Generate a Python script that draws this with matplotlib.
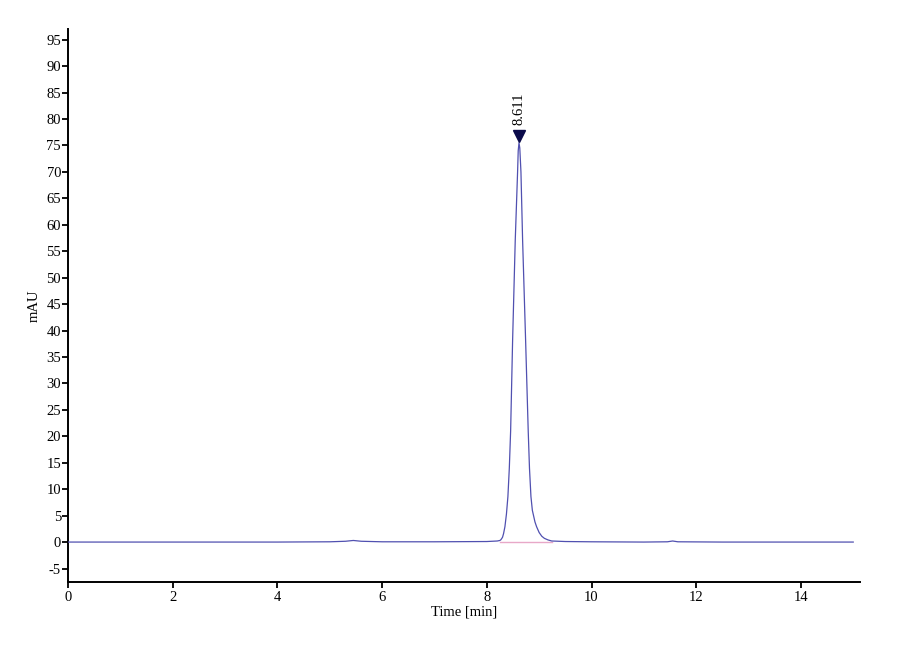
import matplotlib.pyplot as plt

# chromatogram trace (time in min, signal in mAU)
time_min = [0.0, 2.0, 4.0, 5.0, 5.3, 5.45, 5.6, 6.0, 7.0, 8.0, 8.2,
            8.25, 8.27, 8.30, 8.32, 8.346, 8.375, 8.403, 8.43, 8.455,
            8.493, 8.543, 8.588, 8.60, 8.615, 8.63, 8.652, 8.684, 8.741,
            8.791, 8.815, 8.843, 8.87, 8.92, 8.951, 9.00, 9.05, 9.10,
            9.17, 9.24, 9.5, 10.0, 11.0, 11.45, 11.55, 11.65, 12.5, 14.0,
            15.0]
signal_mau = [0.0, 0.0, 0.0, 0.05, 0.15, 0.3, 0.15, 0.05, 0.05, 0.1, 0.2,
              0.3, 0.45, 0.9, 1.6, 2.9, 5.3, 8.6, 14.0, 21.0,
              38.2, 57.0, 70.0, 74.0, 75.5, 74.5, 70.0, 57.0, 38.2,
              21.0, 14.0, 8.6, 6.0, 3.8, 2.9, 1.8, 1.1, 0.7,
              0.4, 0.2, 0.1, 0.05, 0.0, 0.05, 0.2, 0.05, 0.0, 0.0,
              0.0]

peak_time = 8.611
peak_height = 75.5
peak_label = "8.611"
baseline_start, baseline_end = 8.25, 9.24

y_ticks = list(range(-5, 100, 5))
x_ticks = list(range(0, 15, 2))

plt.rcParams['font.family'] = ['Liberation Serif', 'DejaVu Serif']
plt.rcParams['axes.unicode_minus'] = False

fig = plt.figure(figsize=(9, 6.6), dpi=100)
ax = fig.add_axes([0.0756, 0.1186, 0.88, 0.8374])

# integration baseline under the peak
ax.plot([baseline_start, baseline_end], [0, 0], color='#e8a8c8', lw=1.0, zorder=2)
ax.plot(time_min, signal_mau, color='#5050b0', lw=0.9, zorder=3)

# peak marker and retention time label
ax.plot([peak_time], [peak_height + 1.2], marker='v', color='#0a0a4a',
        markersize=8, zorder=4)
ax.text(peak_time, peak_height + 3.3, peak_label, rotation=90,
        ha='center', va='bottom', fontsize=10.5)

ax.set_xlim(0, 15.13)
ax.set_ylim(-7.5, 97)
ax.set_xticks(x_ticks)
ax.set_yticks(y_ticks)
ax.tick_params(axis='both', direction='out', length=4, width=1.3,
               labelsize=10.5, pad=1)
ax.tick_params(axis='x', pad=3)

for side in ['top', 'right']:
    ax.spines[side].set_visible(False)
for side in ['left', 'bottom']:
    ax.spines[side].set_linewidth(1.4)

ax.set_xlabel('Time [min]', fontsize=10.5)
ax.xaxis.set_label_coords(0.5, -0.043)
ax.set_ylabel('mAU', fontsize=10.5)
ax.yaxis.set_label_coords(-0.035, 0.5)

fig.savefig('out.png', dpi=100)
